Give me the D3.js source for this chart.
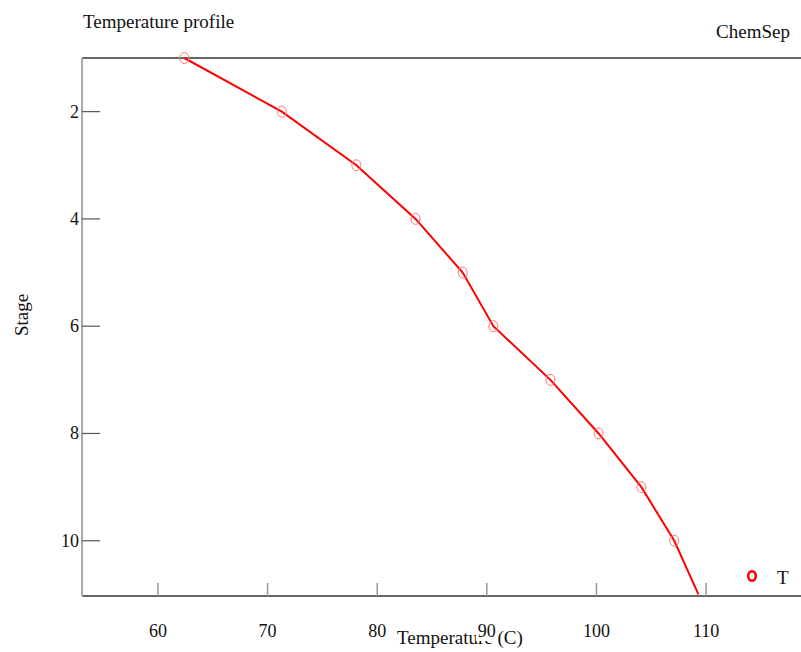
<!DOCTYPE html>
<html>
<head>
<meta charset="utf-8">
<script src="https://cdn.jsdelivr.net/npm/d3@7"></script>
<style>
  body { margin: 0; background: #fff; }
  svg text { font-family: "Liberation Serif", "DejaVu Serif", serif; fill: #111; }
</style>
</head>
<body>
<svg id="chart" width="801" height="652"></svg>
<script>
// data
const stages = [1, 2, 3, 4, 5, 6, 7, 8, 9, 10, 11];
const temps = [62.4, 71.3, 78.1, 83.5, 87.8, 90.6, 95.8, 100.2, 104.1, 107.1, 109.3];
const xTicks = [60, 70, 80, 90, 100, 110];
const yTicks = [2, 4, 6, 8, 10];

const box = { left: 82, right: 801, top: 58, bottom: 596 };

const svg = d3.select('#chart');

const x = d3.scaleLinear().domain([53.07, 118.66]).range([box.left, box.right]);
const y = d3.scaleLinear().domain([1, 11.03]).range([box.top, box.bottom]);

const points = stages.map((s, i) => ({ stage: s, t: temps[i] }));

// titles
svg.append('text')
  .attr('x', 83).attr('y', 28)
  .style('font-size', '19px')
  .text('Temperature profile');
svg.append('text')
  .attr('x', 790).attr('y', 38)
  .attr('text-anchor', 'end')
  .style('font-size', '19px')
  .text('ChemSep');

// frame lines
svg.append('line')
  .attr('x1', box.left).attr('x2', box.right).attr('y1', box.top).attr('y2', box.top)
  .attr('stroke', '#666').attr('stroke-width', 2);
svg.append('line')
  .attr('x1', box.left).attr('x2', box.right).attr('y1', box.bottom).attr('y2', box.bottom)
  .attr('stroke', '#333').attr('stroke-width', 1.6);
svg.append('line')
  .attr('x1', box.left).attr('x2', box.left).attr('y1', box.top).attr('y2', box.bottom)
  .attr('stroke', '#aaa').attr('stroke-width', 2);

// y ticks, pointing inward
const yAxis = svg.append('g').attr('class', 'y-axis');
yAxis.selectAll('line')
  .data(yTicks)
  .enter().append('line')
  .attr('x1', box.left).attr('x2', box.left + 18)
  .attr('y1', d => y(d)).attr('y2', d => y(d))
  .attr('stroke', '#555').attr('stroke-width', 1.2);
yAxis.selectAll('text')
  .data(yTicks)
  .enter().append('text')
  .attr('x', box.left - 3).attr('y', d => y(d) + 6)
  .attr('text-anchor', 'end')
  .style('font-size', '18px')
  .text(d => d);

svg.append('text')
  .attr('transform', 'translate(28,315) rotate(-90)')
  .attr('text-anchor', 'middle')
  .style('font-size', '19px')
  .text('Stage');

// x axis title drawn first, tick labels go over it
svg.append('text')
  .attr('x', 397).attr('y', 644)
  .style('font-size', '19px')
  .text('Temperature (C)');

const xAxis = svg.append('g').attr('class', 'x-axis');
xAxis.selectAll('line')
  .data(xTicks)
  .enter().append('line')
  .attr('x1', d => x(d)).attr('x2', d => x(d))
  .attr('y1', box.bottom).attr('y2', box.bottom - 13)
  .attr('stroke', '#999').attr('stroke-width', 1.5);
const xLabels = xAxis.selectAll('g.lbl')
  .data(xTicks)
  .enter().append('g')
  .attr('class', 'lbl');
xLabels.append('rect')
  .attr('x', d => x(d) - 11).attr('y', 621)
  .attr('width', 22).attr('height', 20)
  .attr('fill', '#fff');
xLabels.append('text')
  .attr('x', d => x(d)).attr('y', 637)
  .attr('text-anchor', 'middle')
  .style('font-size', '18px')
  .text(d => d);

// clipped plot layer
svg.append('clipPath').attr('id', 'plot')
  .append('rect')
  .attr('x', box.left).attr('y', box.top - 8)
  .attr('width', box.right - box.left).attr('height', box.bottom - box.top + 8);
// markers that sit on the bottom edge are not drawn in the original
svg.append('clipPath').attr('id', 'marks')
  .append('rect')
  .attr('x', box.left).attr('y', box.top - 8)
  .attr('width', box.right - box.left).attr('height', box.bottom - box.top);

const plot = svg.append('g').attr('clip-path', 'url(#plot)');

const line = d3.line()
  .x(d => x(d.t))
  .y(d => y(d.stage));

plot.append('path')
  .datum(points)
  .attr('d', line)
  .attr('fill', 'none')
  .attr('stroke', '#f00')
  .attr('stroke-width', 2);

svg.append('g').attr('clip-path', 'url(#marks)')
  .selectAll('ellipse')
  .data(points)
  .enter().append('ellipse')
  .attr('cx', d => x(d.t)).attr('cy', d => y(d.stage))
  .attr('rx', 4.5).attr('ry', 5.5)
  .attr('fill', 'none')
  .attr('stroke', '#f77')
  .attr('stroke-width', 1);

// legend
svg.append('ellipse')
  .attr('cx', 752).attr('cy', 576)
  .attr('rx', 3.8).attr('ry', 4.8)
  .attr('fill', 'none')
  .attr('stroke', '#f00')
  .attr('stroke-width', 2.5);
svg.append('text')
  .attr('x', 777).attr('y', 584)
  .style('font-size', '19px')
  .text('T');
</script>
</body>
</html>
